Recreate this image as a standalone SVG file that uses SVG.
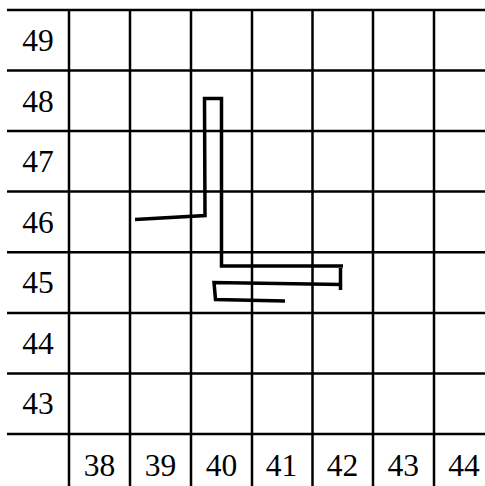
<svg xmlns="http://www.w3.org/2000/svg" width="485" height="486" viewBox="0 0 485 486">
<style>
.g{stroke:#000;stroke-width:2.5;fill:none}
.t{font-family:"Liberation Serif","Times New Roman",serif;font-size:31.5px;fill:#000;text-anchor:middle}
.p{stroke:#000;stroke-width:3.5;fill:none;stroke-linejoin:miter;stroke-linecap:butt}
</style>
<rect width="485" height="486" fill="#fff"/>
<g id="grid" class="g">
<line x1="7" y1="10" x2="485" y2="10"/>
<line x1="7" y1="70.6" x2="485" y2="70.6"/>
<line x1="7" y1="131" x2="485" y2="131"/>
<line x1="7" y1="191.5" x2="485" y2="191.5"/>
<line x1="7" y1="252.3" x2="485" y2="252.3"/>
<line x1="7" y1="313" x2="485" y2="313"/>
<line x1="7" y1="373.6" x2="485" y2="373.6"/>
<line x1="7" y1="434" x2="485" y2="434"/>
<line x1="69" y1="10" x2="69" y2="486"/>
<line x1="130" y1="10" x2="130" y2="486"/>
<line x1="191" y1="10" x2="191" y2="486"/>
<line x1="252" y1="10" x2="252" y2="486"/>
<line x1="312.5" y1="10" x2="312.5" y2="486"/>
<line x1="373" y1="10" x2="373" y2="486"/>
<line x1="434" y1="10" x2="434" y2="486"/>
</g>
<g id="row-labels" class="t">
<text x="38" y="51">49</text>
<text x="38" y="111.6">48</text>
<text x="38" y="172">47</text>
<text x="38" y="232.6">46</text>
<text x="38" y="293.2">45</text>
<text x="38" y="353.8">44</text>
<text x="38" y="414.4">43</text>
</g>
<g id="col-labels" class="t">
<text x="99.5" y="475.5">38</text>
<text x="160.5" y="475.5">39</text>
<text x="221.5" y="475.5">40</text>
<text x="281.5" y="475.5">41</text>
<text x="342.5" y="475.5">42</text>
<text x="403.2" y="475.5">43</text>
<text x="464" y="475.5">44</text>
</g>
<g id="path" class="p">
<path d="M135,219.5 L205,215.5 L204.5,98.5 L221.5,98.5 L221.5,266 L343,266"/>
<path d="M340.5,268 L340.5,290"/>
<path d="M342,284.5 L214,282.5 L215.5,299.5 L285,301"/>
</g>
</svg>
